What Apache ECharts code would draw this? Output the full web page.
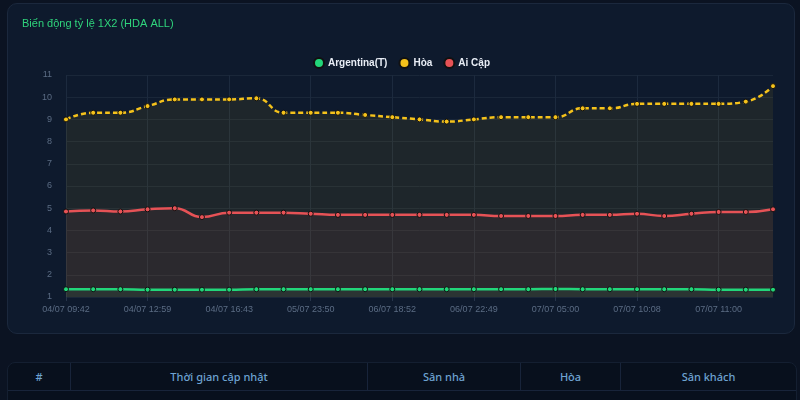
<!DOCTYPE html>
<html>
<head>
<meta charset="utf-8">
<script src="https://cdn.jsdelivr.net/npm/echarts@6/dist/echarts.min.js"></script>
<style>
  html, body { margin: 0; padding: 0; background: #0b1322; width: 800px; height: 400px; overflow: hidden; font-family: "Noto Sans", "DejaVu Sans", sans-serif; }
  #panel { position: absolute; left: 7px; top: 3px; width: 788px; height: 331px; background: #0e1a2d; border: 1px solid #1b283d; border-radius: 10px; box-sizing: border-box; }
  #chart { position: absolute; left: 0; top: 0; width: 787px; height: 330px; }
  #tbl { position: absolute; left: 7px; top: 362px; width: 790px; height: 60px; background: #08101d; border: 1px solid #141f31; border-radius: 8px; box-sizing: border-box; }
  #tbl table { border-collapse: collapse; width: 100%; }
  #tbl th { height: 27px; color: #6ea3d2; font-size: 11px; font-weight: 500; border-right: 1px solid #18243a; border-bottom: 1px solid #18243a; padding: 0; }
  #tbl th:last-child { border-right: none; }
</style>
</head>
<body>
<div id="panel"><div id="chart"></div></div>
<div id="tbl">
  <table>
    <tr>
      <th style="width:62px">#</th>
      <th style="width:296px">Thời gian cập nhật</th>
      <th style="width:152px">Sân nhà</th>
      <th style="width:99px">Hòa</th>
      <th>Sân khách</th>
    </tr>
  </table>
</div>
<script>
var times = ['04/07 09:42','04/07 10:51','04/07 11:35','04/07 12:59','04/07 14:10','04/07 15:28',
  '04/07 16:43','05/07 08:15','05/07 16:02','05/07 23:50','06/07 07:30','06/07 13:14',
  '06/07 18:52','06/07 20:05','06/07 21:37','06/07 22:49','07/07 01:12','07/07 03:20',
  '07/07 05:00','07/07 07:45','07/07 09:02','07/07 10:08','07/07 10:25','07/07 10:41',
  '07/07 11:00','07/07 11:20','07/07 11:42'];

var home = [1.35,1.35,1.35,1.33,1.33,1.33,1.33,1.35,1.35,1.35,1.35,1.35,1.35,1.35,
  1.35,1.35,1.35,1.35,1.36,1.35,1.35,1.35,1.35,1.35,1.33,1.33,1.33];
var draw = [9.0,9.3,9.3,9.6,9.9,9.9,9.9,9.95,9.3,9.3,9.3,9.2,9.1,9.0,8.9,9.0,9.1,9.1,
  9.1,9.5,9.5,9.7,9.7,9.7,9.7,9.8,10.5];
var away = [4.85,4.9,4.85,4.95,5.0,4.6,4.8,4.8,4.8,4.75,4.7,4.7,4.7,4.7,4.7,4.7,4.65,
  4.65,4.65,4.7,4.7,4.75,4.65,4.75,4.83,4.83,4.95];

var names = ['Argentina(T)', 'Hòa', 'Ai Cập'];
var colors = ['#22d67a', '#f5c21b', '#e65256'];

function mk(name, data, color, dashed) {
    return {
        name: name,
        type: 'line',
        smooth: true,
        data: data,
        symbol: 'circle',
        symbolSize: 5,
        itemStyle: { color: color, borderColor: '#111', borderWidth: 1 },
        lineStyle: { color: color, width: 2.5, type: dashed ? [5, 3] : 'solid' },
        areaStyle: { color: color, opacity: 0.07 }
    }
}

var myChart = echarts.init(document.getElementById('chart'));
var option = {
    animation: false,
    title: {
        text: 'Biến động tỷ lệ 1X2 (HDA ALL)',
        left: 9,
        top: 9,
        textStyle: { color: '#2fd47c', fontSize: 11, fontWeight: 'normal' }
    },
    legend: {
        top: 48,
        left: 'center',
        itemWidth: 10,
        itemHeight: 10,
        itemGap: 11,
        icon: 'circle',
        data: names,
        textStyle: { color: '#e8edf5', fontSize: 10, fontWeight: 'bold', padding: [0, 0, 0, -1] }
    },
    grid: { left: 58, top: 71, width: 707, height: 222 },
    xAxis: {
        type: 'category',
        boundaryGap: false,
        data: times,
        axisLine: { show: false },
        axisTick: { show: true, interval: 2, length: 4, lineStyle: { color: '#26344a' } },
        axisLabel: { interval: 2, color: '#5b6c84', fontSize: 9, margin: 8 },
        splitLine: { show: true, interval: 2, lineStyle: { color: '#1c2a3e' } }
    },
    yAxis: {
        type: 'value',
        min: 1,
        max: 11,
        interval: 1,
        axisLine: { show: false },
        axisLabel: { color: '#5b6c84', fontSize: 9, margin: 14 },
        splitLine: { lineStyle: { color: '#1a2739' } }
    },
    series: [
        mk(names[0], home, colors[0], false),
        mk(names[1], draw, colors[1], true),
        mk(names[2], away, colors[2], false)
    ]
};
myChart.setOption(option, true);
</script>
</body>
</html>
